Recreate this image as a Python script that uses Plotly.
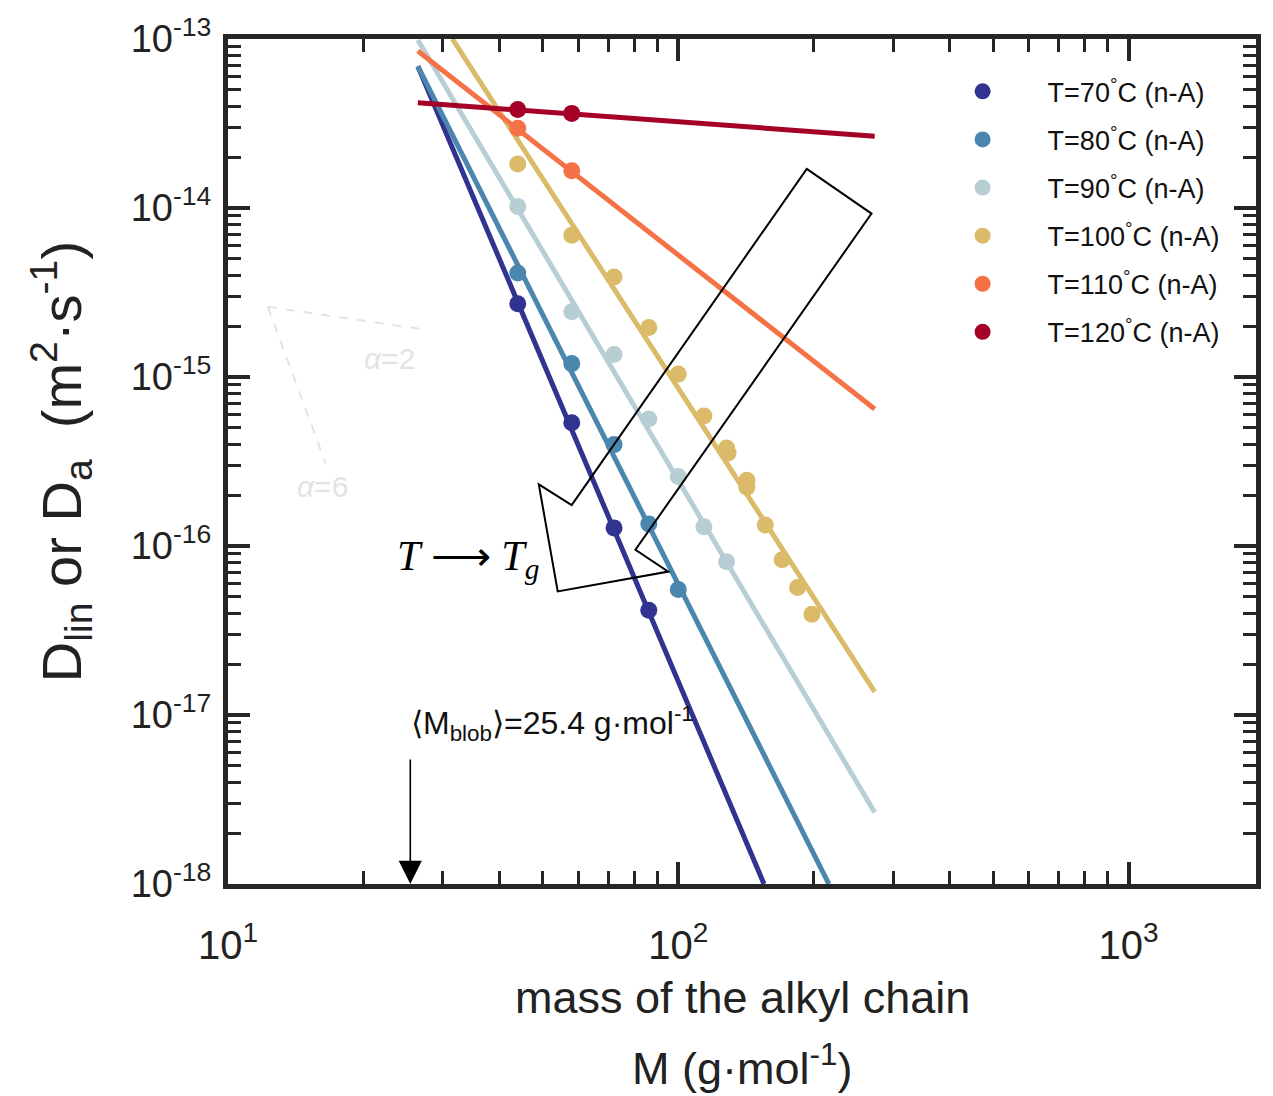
import math
import plotly.graph_objects as go

# ---- measured diffusion coefficients (n-alkanes), M in g/mol, D in m^2/s ----
M_70 = [44, 58, 72, 86]
D_70 = [2.71e-15, 5.36e-16, 1.28e-16, 4.17e-17]

M_80 = [44, 58, 72, 86, 100]
D_80 = [4.12e-15, 1.20e-15, 3.98e-16, 1.35e-16, 5.53e-17]

M_90 = [44, 58, 72, 86, 100, 114, 128]
D_90 = [1.02e-14, 2.43e-15, 1.36e-15, 5.65e-16, 2.58e-16, 1.30e-16, 8.07e-17]

M_100 = [44, 58, 72, 86, 100, 114, 128, 129, 142, 142, 156, 170, 184, 198]
D_100 = [1.82e-14, 6.89e-15, 3.91e-15, 1.96e-15, 1.04e-15, 5.88e-16, 3.80e-16,
         3.55e-16, 2.45e-16, 2.23e-16, 1.33e-16, 8.29e-17, 5.69e-17, 3.94e-17]

M_110 = [44, 58]
D_110 = [2.96e-14, 1.66e-14]

M_120 = [44, 58]
D_120 = [3.83e-14, 3.63e-14]

# ---- power-law fit lines (end points) ----
FIT_M_70 = [26.4, 155]
FIT_D_70 = [6.9e-14, 1.0e-18]
FIT_M_80 = [26.4, 216]
FIT_D_80 = [6.9e-14, 1.0e-18]
FIT_M_90 = [26.4, 273]
FIT_D_90 = [9.87e-14, 2.65e-18]
FIT_M_100 = [31.5, 273]
FIT_D_100 = [1.0e-13, 1.37e-17]
FIT_M_110 = [26.4, 273]
FIT_D_110 = [8.5e-14, 6.47e-16]
FIT_M_120 = [26.4, 273]
FIT_D_120 = [4.2e-14, 2.66e-14]

PAD = "\u00a0" * 4
LABELS = [PAD + "T=70<sup>°</sup>C (n-A)", PAD + "T=80<sup>°</sup>C (n-A)",
          PAD + "T=90<sup>°</sup>C (n-A)", PAD + "T=100<sup>°</sup>C (n-A)",
          PAD + "T=110<sup>°</sup>C (n-A)", PAD + "T=120<sup>°</sup>C (n-A)"]
COLORS = ["#30338f", "#4a86ad", "#b8ced5", "#dbbb69", "#f47245", "#a50026"]

M_BLOB = 25.4

X_TICKS = [10, 100, 1000]
X_TICKTEXT = ["10<sup>1</sup>", "10<sup>2</sup>", "10<sup>3</sup>"]
Y_TICKS = [1e-18, 1e-17, 1e-16, 1e-15, 1e-14, 1e-13]
Y_TICKTEXT = ["10<sup>-18</sup>", "10<sup>-17</sup>", "10<sup>-16</sup>",
              "10<sup>-15</sup>", "10<sup>-14</sup>", "10<sup>-13</sup>"]
X_MINOR = [d * 10 ** e for e in (1, 2, 3) for d in range(2, 10)]
Y_MINOR = [d * 10.0 ** e for e in range(-18, -13) for d in range(2, 10)]

SANS = "Liberation Sans, Arial, sans-serif"
SERIF = "Liberation Serif, Times New Roman, serif"
AXIS_COLOR = "#262626"

points = [(M_70, D_70), (M_80, D_80), (M_90, D_90), (M_100, D_100), (M_110, D_110), (M_120, D_120)]
fits = [(FIT_M_70, FIT_D_70), (FIT_M_80, FIT_D_80), (FIT_M_90, FIT_D_90),
        (FIT_M_100, FIT_D_100), (FIT_M_110, FIT_D_110), (FIT_M_120, FIT_D_120)]

fig = go.Figure()

# fit lines first, markers on top
for (fm, fd), col in zip(fits, COLORS):
    fig.add_trace(go.Scatter(x=fm, y=fd, mode="lines", line=dict(color=col, width=5),
                             showlegend=False, hoverinfo="skip"))

for i, ((m, d), col, lab) in enumerate(zip(points, COLORS, LABELS)):
    fig.add_trace(go.Scatter(x=m, y=d, mode="markers", name=lab, legendgroup=str(i),
                             marker=dict(color=col, size=17, line=dict(width=0))))

# plot-area geometry (pixels) used for decorative overlays
W, H = 1273, 1096
L, R, T, B = 228, 13, 32, 212
PW, PH = W - L - R, H - T - B


def px(x):
    return (x - L) / PW


def py(y):
    return (T + PH - y) / PH


def note(x, y, text, font, **kw):
    d = dict(xref="paper", yref="paper", x=px(x), y=py(y), text=text, showarrow=False,
             xanchor="center", yanchor="middle", font=font)
    d.update(kw)
    return d


shapes = []
# slope guide (alpha = 2 and alpha = 6)
guide = "#e3e3e3"
shapes.append(dict(type="line", xref="paper", yref="paper", x0=px(268), y0=py(302),
                   x1=px(425), y1=py(325), line=dict(color=guide, width=2, dash="dash")))
shapes.append(dict(type="line", xref="paper", yref="paper", x0=px(268), y0=py(302),
                   x1=px(326), y1=py(460), line=dict(color=guide, width=2, dash="dash")))

# large outlined block arrow: T -> Tg
arrow_pts = [(809, 163), (874, 208), (637, 547), (670, 569), (559, 589), (540, 481), (573, 502)]
path = "M " + " L ".join(f"{px(a):.5f},{py(b):.5f}" for a, b in arrow_pts) + " Z"
shapes.append(dict(type="path", xref="paper", yref="paper", path=path,
                   line=dict(color="black", width=2), fillcolor="rgba(0,0,0,0)"))

annotations = [
    note(390, 354, "<i>α</i>=2", dict(family=SANS, size=30, color="#e3e3e3")),
    note(323, 483, "<i>α</i>=6", dict(family=SANS, size=30, color="#e3e3e3")),
    note(469, 556, "<i>T</i> ⟶ <i>T<sub>g</sub></i>", dict(family=SERIF, size=42, color="black")),
    # M_blob marker arrow
    dict(x=math.log10(M_BLOB), y=-18, xref="x", yref="y", text="", showarrow=True,
         ax=0, ay=-126, arrowhead=2, arrowsize=2.9, arrowwidth=1.6, arrowcolor="black",
         standoff=0),
    note(410, 722, "⟨M<sub>blob</sub>⟩=25.4 g·mol<sup>-1</sup>",
         dict(family=SANS, size=32, color="#111111"), xanchor="left"),
    # axis titles
    note(745, 998, "mass of the alkyl chain", dict(family=SANS, size=45, color="#222222")),
    note(745, 1066, "M (g·mol<sup>-1</sup>)", dict(family=SANS, size=45, color="#222222")),
    note(60, 458, "D<sub>lin</sub>\u00a0or\u00a0D<sub>a</sub>\u00a0\u00a0(m<sup>2</sup>·s<sup>-1</sup>)",
         dict(family=SANS, size=56, color="#222222"), textangle=-90),
]

axis_common = dict(
    type="log", showline=True, linewidth=5, linecolor=AXIS_COLOR, mirror="allticks",
    ticks="inside", ticklen=22, tickwidth=4, tickcolor=AXIS_COLOR, showgrid=False,
    zeroline=False, tickmode="array",
)

fig.update_layout(
    width=W, height=H,
    margin=dict(l=L, r=R, t=T, b=B),
    paper_bgcolor="white", plot_bgcolor="white",
    xaxis=dict(axis_common, range=[1, 3.283], tickvals=X_TICKS, ticktext=X_TICKTEXT,
               ticklabelstandoff=22,
               tickfont=dict(family=SANS, size=40, color="#222222"),
               minor=dict(tickmode="array", tickvals=X_MINOR, ticks="inside", ticklen=13,
                          tickwidth=3, tickcolor=AXIS_COLOR, showgrid=False)),
    yaxis=dict(axis_common, range=[-18, -13], tickvals=Y_TICKS, ticktext=Y_TICKTEXT,
               ticklabelstandoff=4,
               tickfont=dict(family=SANS, size=38, color="#222222"),
               minor=dict(tickmode="array", tickvals=Y_MINOR, ticks="inside", ticklen=13,
                          tickwidth=3, tickcolor=AXIS_COLOR, showgrid=False)),
    legend=dict(x=0.70, y=0.9665, xanchor="left", yanchor="top", bgcolor="rgba(0,0,0,0)",
                font=dict(family=SANS, size=27, color="#111111"),
                tracegroupgap=10, itemwidth=60),
    shapes=shapes, annotations=annotations,
    showlegend=True,
)

fig.write_html("out.html")
